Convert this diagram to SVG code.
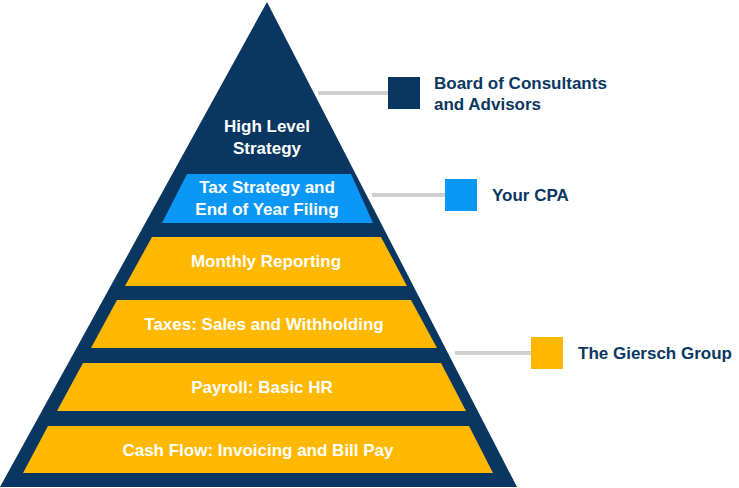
<svg xmlns="http://www.w3.org/2000/svg" width="739" height="488" viewBox="0 0 739 488">
<style>
.t{font-family:"Source Sans Pro","Liberation Sans",Arial,sans-serif;font-weight:bold;font-size:17px;fill:#fff;text-anchor:middle}
.l{font-family:"Source Sans Pro","Liberation Sans",Arial,sans-serif;font-weight:bold;font-size:17px;fill:#0a3761}
.g{fill:#ffb800}
.ln{stroke:#d0d0d0;stroke-width:4}
</style>
<rect width="739" height="488" fill="#fff"/>
<g id="connectors">
<line class="ln" x1="318" y1="93" x2="390" y2="93"/>
<line class="ln" x1="372" y1="195" x2="447" y2="195"/>
<line class="ln" x1="455" y1="353" x2="533" y2="353"/>
</g>
<g id="pyramid">
<polygon points="267,2 0,487 517,487" fill="#0a3761"/>
<text class="t" x="267" y="132">High Level</text>
<text class="t" x="267" y="154">Strategy</text>
</g>
<g id="tax-strategy">
<polygon points="187,174 351,174 373,223 162,223" fill="#0a97f5"/>
<text class="t" x="267" y="193">Tax Strategy and</text>
<text class="t" x="267" y="215">End of Year Filing</text>
</g>
<g id="monthly">
<polygon class="g" points="152,237 381,237 407,286 125,286"/>
<text class="t" x="266" y="267">Monthly Reporting</text>
</g>
<g id="taxes">
<polygon class="g" points="117,300 411,300 437,348 91,348"/>
<text class="t" x="264" y="330">Taxes: Sales and Withholding</text>
</g>
<g id="payroll">
<polygon class="g" points="83,363 441,363 466,411 57,411"/>
<text class="t" x="262" y="393">Payroll: Basic HR</text>
</g>
<g id="cashflow">
<polygon class="g" points="48,426 469,426 493,473 23,473"/>
<text class="t" x="258" y="456">Cash Flow: Invoicing and Bill Pay</text>
</g>
<g id="board">
<rect x="388" y="77" width="32" height="32" fill="#0a3761"/>
<text class="l" x="434" y="89">Board of Consultants</text>
<text class="l" x="434" y="110">and Advisors</text>
</g>
<g id="cpa">
<rect x="445" y="179" width="32" height="32" fill="#0a97f5"/>
<text class="l" x="492" y="201">Your CPA</text>
</g>
<g id="giersch">
<rect x="531" y="337" width="32" height="32" fill="#ffb800"/>
<text class="l" x="578" y="359">The Giersch Group</text>
</g>
</svg>
